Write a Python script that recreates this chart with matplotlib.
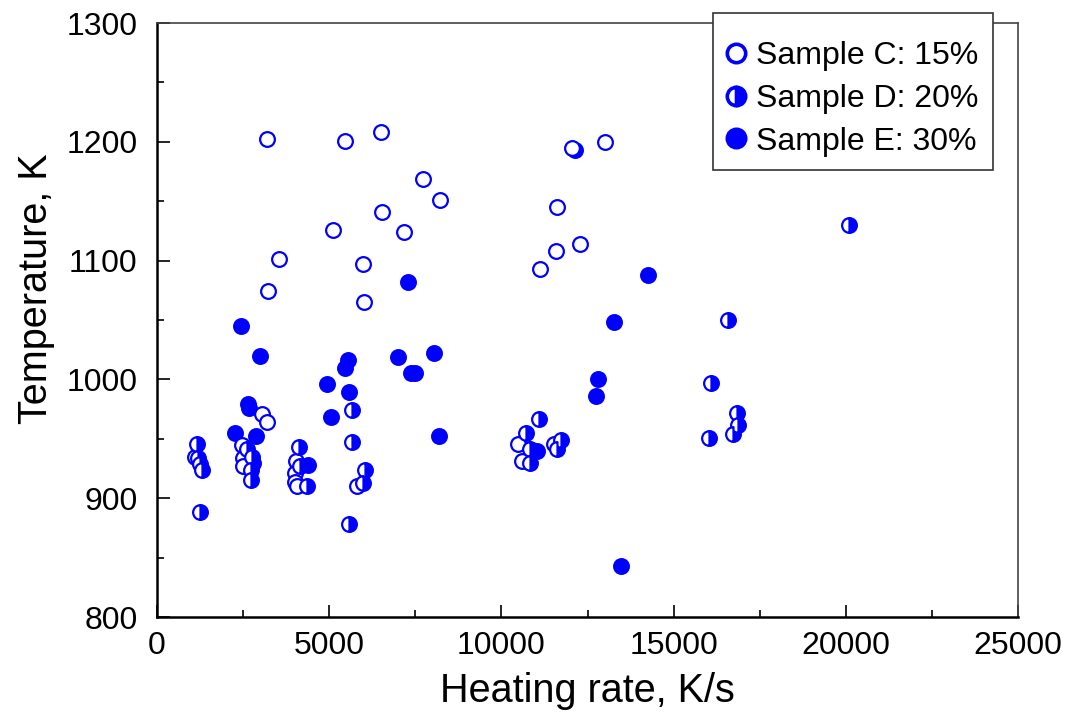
import matplotlib
matplotlib.use("Agg")
import matplotlib.pyplot as plt
from matplotlib.patches import Rectangle
from matplotlib.ticker import MultipleLocator

plt.rcParams['font.family'] = ['Liberation Sans', 'DejaVu Sans']

# Sample C: 15% (open circles)
c_rate = [3203, 5468, 6505, 7716, 8218, 6525, 5111, 7182, 3534, 5982, 3215, 6011,
          12060, 13019, 11625, 11587, 12284, 11122, 3040, 3203,
          1104, 2459, 2507, 2507, 4036, 4007, 4007, 4065, 5817,
          10475, 10591, 11529]
c_temp = [1202, 1201, 1208, 1169, 1151, 1141, 1126, 1124, 1101, 1097, 1074, 1065,
          1195, 1200, 1145, 1108, 1114, 1093, 971, 964,
          935, 945, 934, 927, 931, 921, 914, 910, 910,
          946, 931, 946]

# Sample D: 20% (half-filled circles)
d_rate = [1153, 1200, 1250, 1298, 1249, 2604, 2750, 2720, 2721,
          4133, 4153, 4347, 5654, 5654, 6040, 5991, 5576,
          11102, 10707, 10832, 10832, 11723, 11607,
          16591, 16079, 16834, 16881, 16736, 16039, 20096]
d_temp = [946, 934, 929, 924, 888, 941, 935, 924, 915,
          943, 927, 910, 974, 947, 924, 913, 878,
          967, 955, 941, 930, 949, 941,
          1050, 997, 972, 962, 954, 951, 1130]

# Sample E: 30% (filled circles)
e_rate = [12147, 7280, 2448, 13262, 14259, 13475, 2991, 5547, 5460, 6999, 8044,
          4937, 5576, 5044, 7376, 7492, 12807, 12749, 8198, 11027,
          2640, 2670, 2265, 2875, 2790, 4394]
e_temp = [1193, 1082, 1045, 1048, 1088, 843, 1020, 1016, 1010, 1019, 1022,
          996, 989, 968, 1005, 1005, 1000, 986, 952, 940,
          979, 976, 955, 952, 930, 928]

blue = '#0000FF'
W, H = 1065, 721

fig = plt.figure(figsize=(10.65, 7.21), dpi=100)
ax = fig.add_axes([157 / W, 1 - 617 / H, (1018 - 157) / W, (617 - 23) / H])

ms = 10.6
mew = 1.6
ax.plot(e_rate, e_temp, 'o', color=blue, ms=ms, mec=blue, mew=mew, ls='none',
        label='Sample E: 30%', zorder=3)
ax.plot(c_rate, c_temp, 'o', color=blue, ms=ms, mfc='white', mec=blue, mew=mew, ls='none',
        label='Sample C: 15%', zorder=4)
ax.plot(d_rate, d_temp, 'o', color=blue, ms=ms, fillstyle='right', mfc=blue,
        markerfacecoloralt='white', mec=blue, mew=mew, ls='none',
        label='Sample D: 20%', zorder=5)

ax.set_xlim(0, 25000)
ax.set_ylim(800, 1300)
ax.xaxis.set_major_locator(MultipleLocator(5000))
ax.xaxis.set_minor_locator(MultipleLocator(2500))
ax.yaxis.set_major_locator(MultipleLocator(100))
ax.yaxis.set_minor_locator(MultipleLocator(50))
ax.tick_params(which='major', direction='in', length=9, width=1.2, labelsize=23, pad=10)
ax.tick_params(which='minor', direction='in', length=5, width=1.2)
ax.tick_params(axis='y', which='major', pad=14)

for side in ['left', 'bottom']:
    ax.spines[side].set_linewidth(1.8)
for side in ['top', 'right']:
    ax.spines[side].set_linewidth(1.2)
    ax.spines[side].set_color('#444444')

ax.set_xlabel('Heating rate, K/s', fontsize=28.5, labelpad=8)
ax.set_ylabel('Temperature, K', fontsize=28.5)
ax.yaxis.set_label_coords(-0.118, 0.552)

# legend box (drawn separately so its padding can match the original)
fig.add_artist(Rectangle((713 / W, 1 - 169.5 / H), 280 / W, 157 / H,
                         transform=fig.transFigure, facecolor='white',
                         edgecolor='#333333', linewidth=1.2, zorder=5))

handles, labels = ax.get_legend_handles_labels()
order = [1, 2, 0]
leg = fig.legend([handles[i] for i in order], [labels[i] for i in order],
                 loc='upper right', bbox_to_anchor=(978 / W, 1 - 41 / H),
                 bbox_transform=fig.transFigure, borderaxespad=0, borderpad=0,
                 fontsize=23, frameon=False, handlelength=0.3, handletextpad=0.46,
                 markerscale=1.25, labelspacing=0.4)
for h in leg.legend_handles:
    h.set_markeredgewidth(2.6)
leg.set_zorder(6)

fig.savefig('out.png', dpi=100)
